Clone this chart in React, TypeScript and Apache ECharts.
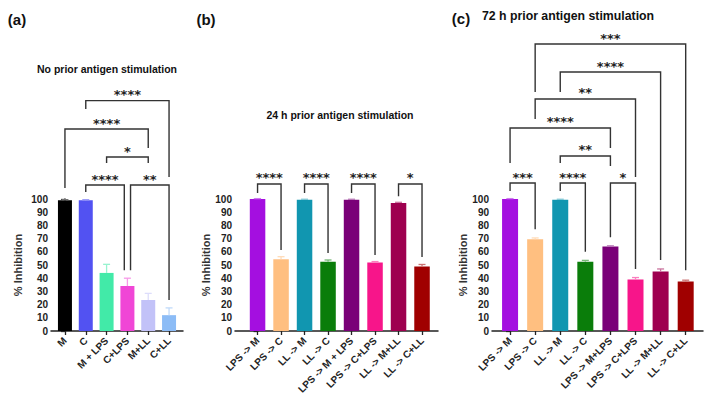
import React, { useEffect, useRef } from 'react';
import * as echarts from 'echarts';

// ---------- data ----------
const catsA = ['M', 'C', 'M + LPS', 'C+LPS', 'M+LL', 'C+LL'];
const valsA = [99, 99, 44, 34, 23.5, 12];
const errA = [99.5, 99.5, 50.5, 40, 28.5, 17.5];
const colorsA = ['#000000', '#5252f2', '#42eaa8', '#f046d6', '#c2c2f8', '#8cbcf6'];

const catsB = ['LPS -> M', 'LPS -> C', 'LL -> M', 'LL -> C', 'LPS -> M + LPS', 'LPS -> C+LPS', 'LL -> M+LL', 'LL -> C+LL'];
const valsB = [100, 54.3, 99.5, 52.5, 99.5, 51.8, 97, 48.8];
const errB = [100.3, 56.3, 99.8, 53.8, 99.8, 52.6, 97.5, 50.4];

const catsC = ['LPS -> M', 'LPS -> C', 'LL -> M', 'LL -> C', 'LPS -> M+LPS', 'LPS -> C+LPS', 'LL -> M+LL', 'LL -> C+LL'];
const valsC = [100, 69.5, 99.5, 52.5, 64, 39, 45, 37.5];
const errC = [100.3, 70.5, 99.8, 53.5, 64.5, 40.5, 47, 38.5];

const colorsBC = ['#a40fe0', '#ffbf80', '#1196b0', '#0a7d0a', '#7a0078', '#f7158a', '#9e004f', '#a00000'];

const yTicks = [0, 10, 20, 30, 40, 50, 60, 70, 80, 90, 100];

// brackets: [x1, x2, level, leftEnd, rightEnd, label]
const bracketsA: [number, number, number, number, number, string][] = [
  [1, 5, 174.5, 168.2, 116.7, '****'],
  [0, 4, 153, 108.3, 138.6, '****'],
  [2, 4, 131.8, 127.3, 127.3, '*'],
  [1, 2.85, 110.6, 105.3, 46, '****'],
  [3.15, 5, 110.6, 46, 23.5, '**'],
];
const bracketsB: [number, number, number, number, number, string][] = [
  [0, 1, 111.4, 104.5, 61.4, '****'],
  [2, 3, 111.4, 104.5, 59, '****'],
  [4, 5, 111.4, 104.5, 57.6, '****'],
  [6, 7, 111.4, 102, 56, '*'],
];
const bracketsC: [number, number, number, number, number, string][] = [
  [1, 7, 217.4, 181, 46, '***'],
  [2, 6, 196.2, 181, 53.8, '****'],
  [1, 5, 175.8, 160.6, 116.7, '**'],
  [0, 4, 153.8, 127.3, 138.6, '****'],
  [2, 4, 132.6, 127.3, 125, '**'],
  [0, 1, 112.1, 106.1, 77, '***'],
  [2, 3, 112.1, 106.1, 60, '****'],
  [4, 5, 112.1, 71, 47, '*'],
];

const FONT = '"Liberation Sans", Arial, sans-serif';

function lighten(hex: string, f: number) {
  const n = parseInt(hex.slice(1), 16);
  const r = (n >> 16) & 255, g = (n >> 8) & 255, b = n & 255;
  const m = (c: number) => Math.round(c + (255 - c) * f);
  return `rgb(${m(r)},${m(g)},${m(b)})`;
}

function makeBars(vals: number[], colors: string[], idx: number, width: number) {
  return {
    type: 'bar',
    xAxisIndex: idx,
    yAxisIndex: idx,
    barWidth: width,
    data: vals.map((v, i) => ({ value: [i, v], itemStyle: { color: colors[i] } })),
  };
}

function makeErr(vals: number[], errs: number[], colors: string[], idx: number) {
  return {
    type: 'custom',
    xAxisIndex: idx,
    yAxisIndex: idx,
    clip: false,
    z: 3,
    data: vals.map((v, i) => [i, v, errs[i]]),
    renderItem: (params: any, api: any) => {
      const i = api.value(0);
      const p0 = api.coord([i, api.value(1)]);
      const p1 = api.coord([i, api.value(2)]);
      const c = lighten(colors[params.dataIndex], 0.45);
      return {
        type: 'group',
        children: [
          { type: 'line', shape: { x1: p0[0], y1: p0[1], x2: p1[0], y2: p1[1] }, style: { stroke: c, lineWidth: 1.3 } },
          { type: 'line', shape: { x1: p1[0] - 3.5, y1: p1[1], x2: p1[0] + 3.5, y2: p1[1] }, style: { stroke: c, lineWidth: 1.3 } },
        ],
      };
    },
  };
}

function makeBrackets(rows: [number, number, number, number, number, string][], idx: number) {
  return {
    type: 'custom',
    xAxisIndex: idx,
    yAxisIndex: idx,
    clip: false,
    z: 4,
    data: rows.map((r) => [r[0], r[1], r[2], r[3], r[4]]),
    renderItem: (params: any, api: any) => {
      const x1 = api.value(0), x2 = api.value(1), lv = api.value(2), le = api.value(3), re = api.value(4);
      const a = api.coord([x1, le]);
      const b = api.coord([x1, lv]);
      const c = api.coord([x2, lv]);
      const d = api.coord([x2, re]);
      const label = rows[params.dataIndex][5];
      return {
        type: 'group',
        children: [
          {
            type: 'polyline',
            shape: { points: [a, b, c, d] },
            style: { stroke: '#333', lineWidth: 1.4, fill: null },
          },
          {
            type: 'text',
            x: (b[0] + c[0]) / 2,
            y: b[1] - 6,
            style: {
              text: label,
              font: 'bold 13px "DejaVu Sans", sans-serif',
              fill: '#222',
              align: 'center',
              verticalAlign: 'middle',
              textAlign: 'center',
              textVerticalAlign: 'middle',
            },
          },
        ],
      };
    },
  };
}

function xAxisFor(cats: string[], idx: number, min: number, max: number) {
  const ticks = cats.map((_, i) => i);
  return {
    type: 'value',
    gridIndex: idx,
    min,
    max,
    splitLine: { show: false },
    axisLine: { show: true, lineStyle: { color: '#222', width: 1.5 } },
    axisTick: { show: true, customValues: ticks, length: 4, lineStyle: { color: '#222', width: 1.3 } },
    axisLabel: {
      customValues: ticks,
      rotate: 45,
      margin: 8,
      fontFamily: FONT,
      fontWeight: 'bold',
      fontSize: 10,
      color: '#222',
      formatter: (v: number) => cats[Math.round(v)] ?? '',
    },
  };
}

function yAxisFor(idx: number, nameGap: number) {
  return {
    type: 'value',
    gridIndex: idx,
    min: 0,
    max: 100,
    interval: 10,
    name: '% Inhibition',
    nameLocation: 'middle',
    nameGap,
    nameTextStyle: { fontFamily: FONT, fontWeight: 'bold', fontSize: 11, color: '#333' },
    splitLine: { show: false },
    axisLine: { show: true, lineStyle: { color: '#222', width: 1.5 } },
    axisTick: { show: true, length: 4, lineStyle: { color: '#222', width: 1.3 } },
    axisLabel: {
      margin: 3,
      fontFamily: FONT,
      fontWeight: 'bold',
      fontSize: 10,
      color: '#222',
      customValues: yTicks,
    },
  };
}

function txt(text: string, x: number, y: number, size: number, family = FONT) {
  return {
    type: 'text',
    x,
    y,
    style: {
      text,
      font: `bold ${size}px ${family}`,
      fill: '#111',
      align: 'center',
      verticalAlign: 'middle',
      textAlign: 'center',
      textVerticalAlign: 'middle',
    },
  };
}

export default function App() {
  const ref = useRef<HTMLDivElement>(null);
  useEffect(() => {
    if (!ref.current) return;
    const chart = echarts.init(ref.current, undefined, { renderer: 'svg' });
    chart.setOption({
      animation: false,
      backgroundColor: '#ffffff',
      grid: [
        { left: 51, top: 199, width: 132, height: 132 },
        { left: 235, top: 199, width: 203, height: 132 },
        { left: 492, top: 199, width: 211, height: 132 },
      ],
      xAxis: [
        xAxisFor(catsA, 0, -0.67, 5.67),
        xAxisFor(catsB, 1, -0.96, 7.68),
        xAxisFor(catsC, 2, -0.72, 7.69),
      ],
      yAxis: [yAxisFor(0, 28), yAxisFor(1, 21), yAxisFor(2, 24)],
      graphic: [
        txt('(a)', 17, 19, 15),
        txt('(b)', 206, 19, 15),
        txt('(c)', 461, 18, 15),
        txt('No prior antigen stimulation', 107, 69, 10.5),
        txt('24 h prior antigen stimulation', 340, 115, 10.5),
        txt('72 h prior antigen stimulation', 568, 16, 12.3),
      ],
      series: [
        makeBars(valsA, colorsA, 0, 14),
        makeErr(valsA, errA, colorsA, 0),
        makeBrackets(bracketsA, 0),
        makeBars(valsB, colorsBC, 1, 15.5),
        makeErr(valsB, errB, colorsBC, 1),
        makeBrackets(bracketsB, 1),
        makeBars(valsC, colorsBC, 2, 16),
        makeErr(valsC, errC, colorsBC, 2),
        makeBrackets(bracketsC, 2),
      ],
    });
    return () => chart.dispose();
  }, []);
  return (
    <div
      ref={ref}
      style={{ position: 'fixed', left: 0, top: 0, width: 715, height: 403, background: '#fff' }}
    />
  );
}
